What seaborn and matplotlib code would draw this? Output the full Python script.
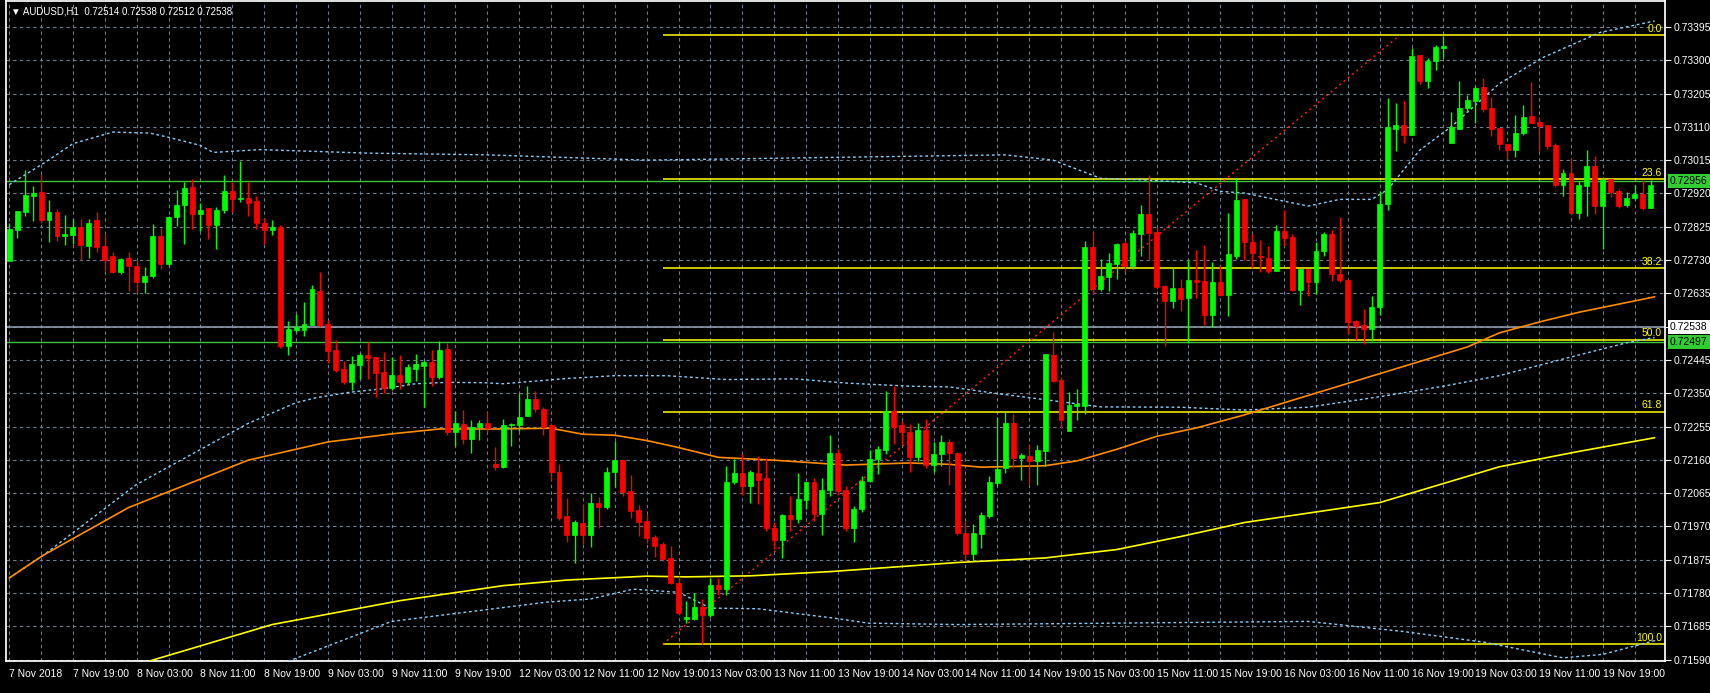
import numpy as np
import pandas as pd
import matplotlib
matplotlib.use("Agg")
import matplotlib.pyplot as plt
import matplotlib.transforms as mtransforms
import seaborn as sns

sns.set_theme(style="dark")
plt.rcParams['font.family'] = ['Liberation Sans', 'DejaVu Sans']

# AUDUSD H1 candles (open, high, low, close)
ohlc = [
    (.72728, .72836, .72728, .72818), (.72816, .72871, .72792, .72871), (.72866, .72987, .72855, .72916),
    (.72914, .72942, .72841, .72922), (.72925, .72976, .72836, .72844), (.72844, .72902, .72782, .72866),
    (.72866, .72876, .72785, .72799), (.72799, .72859, .72773, .72803), (.72801, .72846, .72775, .72823),
    (.72823, .72848, .72731, .72773), (.72771, .72846, .72737, .72836), (.72843, .72868, .72754, .72768),
    (.72770, .72806, .72700, .72731), (.72741, .72752, .72693, .72695), (.72697, .72735, .72689, .72733),
    (.72736, .72752, .72643, .72712), (.72713, .72729, .72637, .72666), (.72666, .72711, .72637, .72685),
    (.72683, .72832, .72679, .72798), (.72798, .72822, .72705, .72719), (.72719, .72855, .72714, .72853),
    (.72853, .72930, .72827, .72888), (.72888, .72954, .72775, .72936), (.72939, .72960, .72819, .72860),
    (.72860, .72893, .72813, .72874), (.72877, .72877, .72789, .72829), (.72829, .72882, .72761, .72874),
    (.72874, .72973, .72863, .72928), (.72928, .72954, .72866, .72905), (.72905, .73012, .72895, .72907),
    (.72908, .72954, .72855, .72894), (.72897, .72914, .72818, .72835), (.72835, .72850, .72775, .72815),
    (.72815, .72845, .72800, .72825), (.72825, .72830, .72480, .72485), (.72484, .72555, .72459, .72534),
    (.72531, .72575, .72525, .72539), (.72531, .72611, .72514, .72547), (.72544, .72660, .72544, .72646),
    (.72642, .72696, .72538, .72544), (.72547, .72559, .72435, .72470), (.72474, .72502, .72410, .72416),
    (.72418, .72442, .72377, .72381), (.72381, .72457, .72360, .72432), (.72430, .72465, .72391, .72460),
    (.72458, .72497, .72391, .72450), (.72452, .72452, .72339, .72408), (.72410, .72469, .72351, .72365),
    (.72365, .72452, .72358, .72401), (.72401, .72460, .72363, .72381), (.72381, .72433, .72377, .72424),
    (.72420, .72463, .72386, .72432), (.72429, .72444, .72311, .72439), (.72438, .72472, .72370, .72396),
    (.72396, .72499, .72391, .72474), (.72477, .72493, .72232, .72238), (.72238, .72300, .72199, .72266),
    (.72263, .72303, .72204, .72218), (.72218, .72275, .72179, .72255), (.72255, .72275, .72217, .72266),
    (.72266, .72297, .72238, .72252), (.72148, .72196, .72131, .72140), (.72140, .72277, .72136, .72258),
    (.72258, .72264, .72200, .72262), (.72260, .72351, .72241, .72283), (.72284, .72370, .72284, .72333),
    (.72333, .72356, .72297, .72305), (.72305, .72311, .72232, .72255), (.72258, .72265, .72103, .72124),
    (.72126, .72148, .71988, .71994), (.71999, .72052, .71926, .71946), (.71946, .71988, .71867, .71982),
    (.71979, .72034, .71921, .71946), (.71946, .72064, .71912, .72038), (.72036, .72055, .71965, .72024),
    (.72024, .72140, .72019, .72125), (.72125, .72214, .72083, .72159), (.72159, .72159, .72056, .72067),
    (.72072, .72117, .71993, .72013), (.72016, .72030, .71943, .71982), (.71985, .72005, .71923, .71937),
    (.71940, .71946, .71884, .71915), (.71920, .71926, .71872, .71878), (.71881, .71915, .71805, .71808),
    (.71808, .71828, .71718, .71723), (.71705, .71758, .71694, .71712), (.71707, .71781, .71704, .71740),
    (.71740, .71762, .71635, .71717), (.71717, .71824, .71712, .71802), (.71802, .71824, .71775, .71791),
    (.71791, .72141, .71775, .72097), (.72097, .72162, .72091, .72123), (.72123, .72176, .72061, .72086),
    (.72086, .72131, .72036, .72126), (.72123, .72171, .72034, .72103), (.72109, .72164, .71958, .71966),
    (.71966, .71982, .71906, .71932), (.71932, .72005, .71881, .72002), (.72002, .72058, .71957, .71990),
    (.71990, .72123, .71979, .72047), (.72044, .72097, .72019, .72097), (.72097, .72109, .71984, .72005),
    (.72005, .72109, .71946, .72075), (.72075, .72232, .72056, .72179), (.72179, .72190, .72059, .72070),
    (.72075, .72086, .71957, .71965), (.71965, .72027, .71926, .72021), (.72019, .72114, .72011, .72100),
    (.72100, .72187, .72097, .72162), (.72162, .72199, .72120, .72190), (.72187, .72356, .72176, .72300),
    (.72300, .72370, .72204, .72255), (.72258, .72272, .72204, .72238), (.72238, .72261, .72126, .72168),
    (.72168, .72266, .72157, .72246), (.72246, .72277, .72136, .72145), (.72145, .72210, .72126, .72176),
    (.72176, .72230, .72142, .72210), (.72210, .72218, .72089, .72179), (.72179, .72182, .71946, .71952),
    (.71952, .71985, .71871, .71890), (.71890, .71977, .71871, .71952), (.71949, .72010, .71907, .72002),
    (.72001, .72115, .71995, .72098), (.72095, .72281, .72086, .72134), (.72137, .72295, .72123, .72266),
    (.72266, .72292, .72137, .72165), (.72165, .72179, .72103, .72174), (.72171, .72205, .72092, .72157),
    (.72157, .72202, .72089, .72188), (.72185, .72461, .72143, .72461), (.72458, .72525, .72382, .72385),
    (.72388, .72396, .72252, .72275), (.72241, .72354, .72241, .72315), (.72314, .72362, .72275, .72318),
    (.72314, .72784, .72292, .72767), (.72767, .72809, .72632, .72646), (.72646, .72734, .72643, .72683),
    (.72682, .72750, .72641, .72722), (.72720, .72779, .72675, .72776), (.72779, .72784, .72697, .72714),
    (.72714, .72815, .72703, .72807), (.72804, .72886, .72742, .72860), (.72860, .72973, .72731, .72807),
    (.72810, .72824, .72646, .72652), (.72655, .72660, .72486, .72613), (.72613, .72711, .72593, .72649),
    (.72649, .72677, .72584, .72618), (.72621, .72731, .72492, .72672), (.72672, .72759, .72621, .72666),
    (.72669, .72773, .72545, .72573), (.72573, .72725, .72539, .72666), (.72666, .72714, .72627, .72630),
    (.72630, .72863, .72571, .72748), (.72742, .72964, .72734, .72902), (.72905, .72905, .72731, .72780),
    (.72782, .72804, .72708, .72750), (.72742, .72787, .72697, .72739), (.72736, .72770, .72694, .72700),
    (.72700, .72829, .72700, .72812), (.72812, .72872, .72770, .72793), (.72796, .72804, .72641, .72644),
    (.72644, .72705, .72601, .72705), (.72705, .72705, .72627, .72666), (.72666, .72781, .72632, .72756),
    (.72756, .72810, .72742, .72804), (.72804, .72815, .72669, .72689), (.72691, .72852, .72666, .72672),
    (.72672, .72677, .72520, .72553), (.72556, .72559, .72503, .72542), (.72545, .72590, .72489, .72534),
    (.72534, .72627, .72498, .72596), (.72596, .72928, .72573, .72891), (.72891, .73191, .72874, .73109),
    (.73105, .73178, .73040, .73114), (.73114, .73183, .73065, .73088), (.73088, .73336, .73088, .73313),
    (.73316, .73316, .73233, .73240), (.73240, .73307, .73220, .73299), (.73299, .73344, .73273, .73338),
    (.73335, .73370, .73307, .73340), (.73065, .73151, .73065, .73109), (.73105, .73240, .73105, .73163),
    (.73163, .73200, .73152, .73186), (.73184, .73227, .73120, .73222), (.73225, .73248, .73153, .73160),
    (.73163, .73194, .73085, .73105), (.73108, .73108, .73043, .73062), (.73062, .73062, .73017, .73043),
    (.73043, .73143, .73023, .73092), (.73092, .73172, .73088, .73138), (.73140, .73238, .73122, .73122),
    (.73123, .73138, .73040, .73113), (.73116, .73116, .73046, .73054), (.73057, .73065, .72938, .72944),
    (.72944, .72989, .72913, .72978), (.72979, .73020, .72861, .72863), (.72863, .72955, .72846, .72944),
    (.72942, .73044, .72856, .72998), (.72998, .73028, .72861, .72885), (.72885, .72967, .72762, .72957),
    (.72960, .72960, .72911, .72923), (.72928, .72932, .72879, .72884), (.72887, .72923, .72882, .72907),
    (.72907, .72943, .72901, .72919), (.72919, .72957, .72872, .72878), (.72878, .72959, .72878, .72943),
]

# indicator lines sampled from the chart: (bar, price)
orange_ma = [(0, .71823), (4.3, .71888), (15, .72024), (30, .72159), (40, .72211), (48, .72234),
             (54, .72248), (61, .72248), (68, .72250), (72, .72233), (76, .72230), (80, .72215),
             (84, .72195), (89, .72167), (96, .72159), (105, .72145), (113, .72151), (118, .72147),
             (122, .72139), (130, .72143), (134, .72157), (139, .72190), (144, .72227), (149, .72251),
             (155, .72288), (183, .72482), (187, .72522), (192, .72553), (197, .72581), (206.5, .72625)]
yellow_ma = [(16, .71575), (33, .71690), (49, .71758), (62, .71801), (70, .71817), (80, .71828),
             (85, .71826), (93, .71829), (103, .71841), (111, .71854), (119, .71867), (130, .71880),
             (139, .71904), (147, .71941), (155, .71981), (172, .72038), (187, .72140), (197, .72184),
             (206.5, .72223)]
band_upper = [(0, .72945), (4.6, .73010), (8, .73062), (13, .73095), (17.7, .73092), (20.2, .73079),
              (24, .73057), (25.6, .73037), (31.5, .73045), (45, .73035), (60, .73030), (80, .73015),
              (95, .73020), (110, .73025), (125, .73030), (131, .73015), (137, .72963), (142, .72959),
              (149, .72950), (152, .72926), (155, .72921), (163, .72884), (167, .72903), (171, .72903),
              (173, .72931), (177, .73043), (181, .73111), (187, .73233), (192.5, .73308),
              (199.6, .73379), (206.5, .73412)]
band_lower = [(0, .71823), (4.3, .71888), (16, .72090), (30, .72264), (36, .72323), (38.5, .72337),
              (42.8, .72353), (47, .72363), (51, .72377), (55, .72381), (59.5, .72380), (62, .72377),
              (70, .72392), (76, .72400), (82.5, .72400), (90, .72389), (98.6, .72391), (105, .72379),
              (113, .72370), (118, .72368), (124, .72349), (130.5, .72330), (137, .72311), (147, .72310),
              (155, .72302), (163, .72310), (172, .72340), (180, .72370), (187, .72400), (195.6, .72451),
              (203, .72494), (206.5, .72509)]
band_bottom = [(35, .71585), (48, .71699), (67.5, .71754), (73, .71763), (78.3, .71791), (84, .71782),
               (88, .71737), (94, .71735), (103.6, .71708), (107.8, .71694), (119, .71690), (163, .71699),
               (175, .71670), (185, .71640), (195, .71595), (200, .71605), (206.5, .71644)]

fib_start, fib_end = 82, 174.5
fib_high, fib_low = .73371, .71634
fib_levels = [0.0, 23.6, 38.2, 50.0, 61.8, 100.0]

price_ticks = [.73395, .73300, .73205, .73110, .73015, .72920, .72825, .72730, .72635, .72540,
               .72445, .72350, .72255, .72160, .72065, .71970, .71875, .71780, .71685, .71590]
time_labels = ["7 Nov 2018", "7 Nov 19:00", "8 Nov 03:00", "8 Nov 11:00", "8 Nov 19:00", "9 Nov 03:00",
               "9 Nov 11:00", "9 Nov 19:00", "12 Nov 03:00", "12 Nov 11:00", "12 Nov 19:00",
               "13 Nov 03:00", "13 Nov 11:00", "13 Nov 19:00", "14 Nov 03:00", "14 Nov 11:00",
               "14 Nov 19:00", "15 Nov 03:00", "15 Nov 11:00", "15 Nov 19:00", "16 Nov 03:00",
               "16 Nov 11:00", "16 Nov 19:00", "19 Nov 03:00", "19 Nov 11:00", "19 Nov 19:00"]
green_levels = [.72956, .72497]
bid_price = .72538

df = pd.DataFrame(ohlc, columns=["open", "high", "low", "close"])
df["bar"] = np.arange(len(df))
up = df["close"] >= df["open"]

fig = plt.figure(figsize=(17.1, 6.93), dpi=100, facecolor="black")
ax = fig.add_axes([6 / 1710, 32 / 693, 1659 / 1710, 660 / 693])
ax.set_facecolor("black")
ax.set_xlim(-0.4, 207.8)
ax.set_ylim(.71586, .73469)

grid_c = "#6e7d8e"
ax.set_xticks(np.arange(0, 208, 4), minor=True)
ax.set_xticks(np.arange(0, 208, 8))
ax.set_xticklabels(time_labels, ha="left", color="white", fontsize=7.5)
ax.set_yticks(price_ticks)
ax.set_yticklabels([f"{p:.5f}" for p in price_ticks], color="white", fontsize=7.5)
ax.yaxis.tick_right()
ax.tick_params(axis="both", colors="white", length=4, width=0.8, pad=2)
ax.tick_params(axis="x", which="minor", length=0)
ax.grid(True, which="both", color=grid_c, linestyle=(0, (3, 3)), linewidth=0.8)
for s in ax.spines.values():
    s.set_color("white")

# horizontal lines
ax.axhline(bid_price, color="#8a99aa", lw=1.2, zorder=2)
for lv in green_levels:
    ax.axhline(lv, color="#3cc43c", lw=1, zorder=2)
for lv in fib_levels:
    p = fib_high - (fib_high - fib_low) * lv / 100
    ax.hlines(p, fib_start, 207.8, color="#ffff00", lw=1.1, zorder=2)
    ax.text(207.4, p + 0.00004, f"{lv:.1f}", color="#ffff00", fontsize=7.5, ha="right", va="bottom")
ax.plot([fib_start, fib_end], [fib_low, fib_high], color="#ff2020", lw=1, ls=(0, (1.5, 2.5)), zorder=2)

# indicators
for pts, col, ls, lw in [(band_upper, "#87cefa", (0, (2, 2)), 1), (band_lower, "#87cefa", (0, (2, 2)), 1),
                         (band_bottom, "#87cefa", (0, (2, 2)), 1), (orange_ma, "#ff8c00", "-", 1.2),
                         (yellow_ma, "#ffff00", "-", 1.2)]:
    d = pd.DataFrame(pts, columns=["bar", "price"])
    sns.lineplot(data=d, x="bar", y="price", ax=ax, color=col, lw=lw, linestyle=ls, zorder=3)

# candles
colors = np.where(up, "#00ff00", "#ff0000")
ax.vlines(df["bar"], df["low"], df["high"], colors=colors, lw=1, zorder=4)
body_lo = np.minimum(df["open"], df["close"])
body_h = np.maximum(np.abs(df["close"] - df["open"]), 0.00001)
ax.bar(df["bar"], body_h, bottom=body_lo, width=0.62, color=colors, edgecolor=colors, lw=0.5, zorder=5)

ax.set_xlabel("")
ax.set_ylabel("")

# price labels with backgrounds on the right scale
trans = mtransforms.blended_transform_factory(ax.transAxes, ax.transData)
for lv, bg in [(green_levels[0], "#32cd32"), (bid_price, "white"), (green_levels[1], "#32cd32")]:
    ax.text(1.003, lv, f"{lv:.5f}", transform=trans, color="black", fontsize=7.5, va="center", ha="left",
            bbox=dict(boxstyle="square,pad=0.2", fc=bg, ec="none"), clip_on=False, zorder=10)

ax.text(0.003, 0.992, "\u25bc AUDUSD,H1  0.72514 0.72538 0.72512 0.72538", transform=ax.transAxes,
        color="white", fontsize=7, va="top", ha="left")

fig.savefig("out.png", dpi=100, facecolor="black")
